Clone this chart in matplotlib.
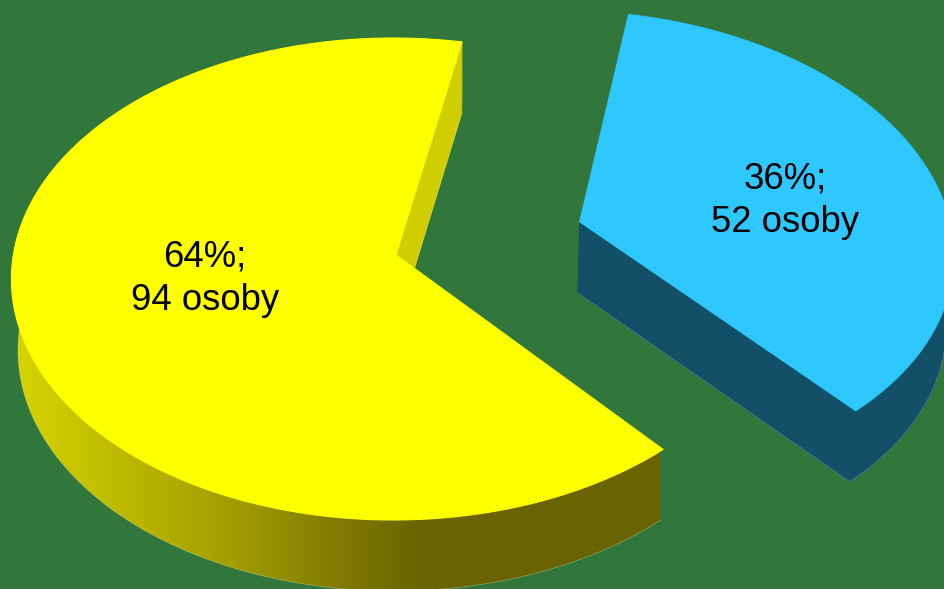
import numpy as np
import matplotlib
matplotlib.use("Agg")
import matplotlib.pyplot as plt
from matplotlib.colors import LinearSegmentedColormap
from matplotlib.patches import Polygon

# Data
categories = ["A", "B"]
people = [94, 52]
labels = ["64%;\n94 osoby", "36%;\n52 osoby"]
explode = [0.0, 0.5]
start_angle = 79.0

# Style
BG = "#31763A"
TOP = ["#FFFF00", "#2EC8FF"]
WALL = ["#D0CE00", "#125068"]
OUTER = [None, "#125068"]
EDGE = ["#E8E8B0", "#B0B8B8"]
LABEL_XY = [(205, 278.5), (785, 201)]
NUDGE = [(0.0, 0.0), (3.0, -3.0)]

# Perspective geometry of the pie, in pixels
CX, CY, SX, SY, K, KX = 396.0, 255.0, 380.0, 238.6, 0.0996, 0.007
DEPTH, VX, VS = 71.0, 450.0, 0.985


def project(u, v, nudge, bottom=False):
    w = 1 + K * v + KX * u
    x = CX + SX * u / w + nudge[0]
    y = CY - SY * v / w + nudge[1]
    if bottom:
        x = VX + (x - VX) * VS
        y = y + DEPTH
    return np.column_stack([x, y])


fig = plt.figure(figsize=(9.45, 5.89), dpi=100, facecolor=BG)
ax = fig.add_axes([0, 0, 1, 1])
ax.set_xlim(0, 945)
ax.set_ylim(589, 0)
ax.axis("off")

shade = LinearSegmentedColormap.from_list(
    "side",
    [(0.0, "#D6D400"), (0.16, "#BEBA00"), (0.32, "#A5A000"),
     (0.5, "#807B00"), (0.63, "#696400"), (1.0, "#6A6400")],
)

angles = start_angle + np.cumsum([0] + [p / sum(people) * 360 for p in people])

for i, p in enumerate(people):
    a0, a1 = np.radians(angles[i]), np.radians(angles[i + 1])
    mid = (a0 + a1) / 2
    ox, oy = explode[i] * np.cos(mid), explode[i] * np.sin(mid)
    t = np.linspace(a0, a1, 300)
    u, v = ox + np.cos(t), oy + np.sin(t)

    top_arc = project(u, v, NUDGE[i])
    bot_arc = project(u, v, NUDGE[i], bottom=True)
    apex = project(np.array([ox]), np.array([oy]), NUDGE[i])
    apex_b = project(np.array([ox]), np.array([oy]), NUDGE[i], bottom=True)

    # outer rim
    rim = np.vstack([top_arc, bot_arc[::-1]])
    if OUTER[i] is None:
        poly = Polygon(rim, closed=True, transform=ax.transData, fc="none", ec="none")
        ax.add_patch(poly)
        img = ax.imshow(
            np.linspace(0, 1, 512)[None, :], cmap=shade, aspect="auto",
            extent=[15, 660, 589, 0], zorder=1.0 + i,
        )
        img.set_clip_path(poly)
    else:
        ax.fill(rim[:, 0], rim[:, 1], fc=OUTER[i], ec=OUTER[i], lw=0.6, zorder=1.0 + i)

    # the one cut wall that faces the viewer
    wall = np.vstack([top_arc[0], bot_arc[0], apex_b, apex])
    ax.fill(wall[:, 0], wall[:, 1], fc=WALL[i], ec=WALL[i], lw=0.6, zorder=1.1 + i)

    # pale fringe along the lower rim
    ax.plot(bot_arc[:, 0], bot_arc[:, 1], color=EDGE[i], lw=0.5, alpha=0.45,
            zorder=1.05 + i)
    ax.plot([apex_b[0, 0], bot_arc[0, 0]], [apex_b[0, 1], bot_arc[0, 1]],
            color=EDGE[i], lw=0.5, alpha=0.45, zorder=1.2 + i)

    # top face
    face = np.vstack([apex, top_arc])
    ax.fill(face[:, 0], face[:, 1], fc=TOP[i], ec=TOP[i], lw=0.8, zorder=1.5 + i)

    ax.text(*LABEL_XY[i], labels[i], ha="center", va="center", fontsize=26.3,
            color="black", linespacing=1.33, zorder=5,
            family=["Liberation Sans", "DejaVu Sans"])

ax.set_xlim(0, 945)
ax.set_ylim(589, 0)
fig.savefig("out.png", dpi=100, facecolor=BG)
